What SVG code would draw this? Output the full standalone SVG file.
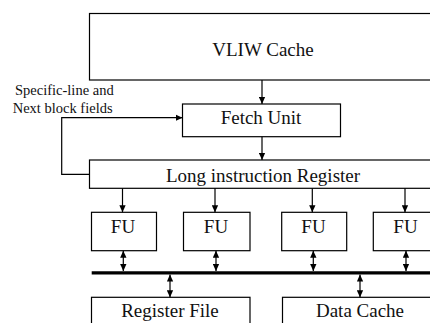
<svg xmlns="http://www.w3.org/2000/svg" width="430" height="323" viewBox="0 0 430 323">
<style>
.box{fill:#fff;stroke:#000;stroke-width:1.2}
.t{font-family:"Liberation Serif","Times New Roman",serif;font-size:19px;fill:#111;text-anchor:middle}
.s{font-family:"Liberation Serif","Times New Roman",serif;font-size:14.5px;fill:#111}
.c{fill:none;stroke:#000;stroke-width:1.2}
.a{marker-end:url(#ah)}
.d{marker-start:url(#ah);marker-end:url(#ah)}
</style>
<defs>
<marker id="ah" viewBox="0 0 10 10" refX="10" refY="5" markerWidth="7" markerHeight="7" markerUnits="userSpaceOnUse" orient="auto-start-reverse">
<path d="M0,0.5 L10,5 L0,9.5 z" fill="#000"/>
</marker>
</defs>
<rect width="430" height="323" fill="#fff"/>
<g id="vliw-cache"><rect class="box" x="89.5" y="13.5" width="350" height="66.5"/><text class="t" x="263" y="56">VLIW Cache</text></g>
<g id="fetch-unit"><rect class="box" x="182.5" y="104" width="158" height="32.7"/><text class="t" x="261" y="124">Fetch Unit</text></g>
<g id="lir"><rect class="box" x="89.5" y="160" width="350" height="28.3"/><text class="t" x="263" y="181.5">Long instruction Register</text></g>
<g id="fu1"><rect class="box" x="91.5" y="212.3" width="65" height="38.4"/><text class="t" x="123" y="233.3">FU</text></g>
<g id="fu2"><rect class="box" x="183.5" y="212.3" width="66.5" height="38.4"/><text class="t" x="216" y="233.3">FU</text></g>
<g id="fu3"><rect class="box" x="281.7" y="212.3" width="65" height="38.4"/><text class="t" x="313.5" y="233.3">FU</text></g>
<g id="fu4"><rect class="box" x="373.3" y="212.3" width="65" height="38.4"/><text class="t" x="405.5" y="233.3">FU</text></g>
<g id="register-file"><rect class="box" x="91.5" y="297.3" width="158.5" height="40"/><text class="t" x="170" y="316.7">Register File</text></g>
<g id="data-cache"><rect class="box" x="282.5" y="297.3" width="160" height="40"/><text class="t" x="360" y="316.7">Data Cache</text></g>
<g id="label"><text class="s" x="15" y="95">Specific-line and</text><text class="s" x="12.7" y="113.3">Next block fields</text></g>
<g id="connectors">
<line class="c a" x1="262" y1="80" x2="262" y2="104"/>
<line class="c a" x1="262" y1="136.7" x2="262" y2="160"/>
<polyline class="c a" points="89.5,174.3 61.7,174.3 61.7,117.7 182.5,117.7"/>
<line class="c a" x1="122.5" y1="188.3" x2="122.5" y2="212.3"/>
<line class="c a" x1="215" y1="188.3" x2="215" y2="212.3"/>
<line class="c a" x1="312.3" y1="188.3" x2="312.3" y2="212.3"/>
<line class="c a" x1="405" y1="188.3" x2="405" y2="212.3"/>
<line x1="91.7" y1="272.8" x2="440" y2="272.8" stroke="#000" stroke-width="3.3"/>
<line class="c d" x1="123.3" y1="250.7" x2="123.3" y2="271.1"/>
<line class="c d" x1="216" y1="250.7" x2="216" y2="271.1"/>
<line class="c d" x1="313.3" y1="250.7" x2="313.3" y2="271.1"/>
<line class="c d" x1="406" y1="250.7" x2="406" y2="271.1"/>
<line class="c d" x1="170" y1="274.5" x2="170" y2="297.3"/>
<line class="c d" x1="360" y1="274.5" x2="360" y2="297.3"/>
</g>
</svg>
